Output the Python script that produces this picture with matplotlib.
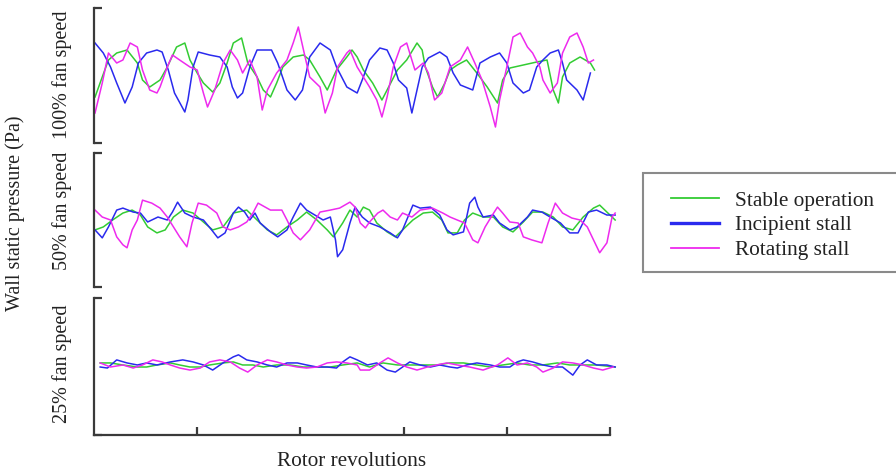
import matplotlib
matplotlib.use("Agg")
import matplotlib.pyplot as plt
from matplotlib.lines import Line2D
from matplotlib.patches import Rectangle

plt.rcParams['font.family'] = ['Liberation Serif', 'DejaVu Serif']

# ---------------- data (revolutions, Pa) ----------------
panel_labels = ["100% fan speed", "50% fan speed", "25% fan speed"]
series_names = ["Stable operation", "Incipient stall", "Rotating stall"]
series_colors = ["#33cc33", "#2a2aee", "#ee2aee"]
xtick_values = [1, 2, 3, 4, 5]

top_green = [(0.01,-43),(0.08,-3),(0.14,31),(0.22,45),(0.32,51),(0.42,25),(0.47,-9),(0.54,-23),(0.64,-9),(0.71,17),
             (0.80,57),(0.88,65),(0.93,31),(1.00,5),(1.06,-15),(1.15,-33),(1.22,-15),(1.29,25),(1.35,65),(1.43,75),
             (1.49,25),(1.58,-3),(1.64,-29),(1.71,-43),(1.77,-15),(1.83,17),(1.93,37),(2.03,41),(2.09,31),(2.19,-3),
             (2.26,-29),(2.35,11),(2.45,37),(2.50,51),(2.55,37),(2.61,11),(2.70,-15),(2.79,-49),(2.84,-29),(2.94,11),
             (3.03,31),(3.13,65),(3.18,51),(3.21,17),(3.28,-23),(3.33,-43),(3.40,-15),(3.45,11),(3.52,21),(3.61,31),
             (3.71,5),(3.81,-23),(3.91,-55),(3.96,-9),(4.03,15),(4.16,21),(4.29,27),(4.39,31),(4.45,-29),(4.50,-55),
             (4.54,-3),(4.61,25),(4.71,37),(4.81,25),(4.85,11)]
top_blue = [(0.01,65),(0.09,45),(0.16,17),(0.22,-15),(0.30,-55),(0.37,-23),(0.43,25),(0.51,45),(0.61,51),(0.66,47),
            (0.72,11),(0.78,-35),(0.88,-73),(0.91,-49),(0.96,17),(1.01,47),(1.12,41),(1.22,37),(1.29,17),(1.34,-23),
            (1.39,-45),(1.44,-35),(1.51,17),(1.58,51),(1.72,51),(1.78,25),(1.87,-29),(1.95,-49),(2.02,-29),(2.09,37),
            (2.19,65),(2.29,51),(2.35,17),(2.45,-23),(2.55,-35),(2.61,-3),(2.67,31),(2.77,55),(2.84,51),(2.90,25),
            (2.95,-9),(3.03,-25),(3.08,-75),(3.13,-29),(3.18,17),(3.24,35),(3.35,47),(3.42,37),(3.48,5),(3.55,-19),
            (3.67,-29),(3.74,25),(3.84,37),(3.93,45),(4.00,25),(4.06,-15),(4.16,-35),(4.22,-29),(4.29,17),(4.35,31),
            (4.42,45),(4.50,51),(4.54,25),(4.58,-9),(4.68,-29),(4.74,-49),(4.81,5)]
top_magenta = [(0.01,-75),(0.08,-15),(0.14,45),(0.22,25),(0.28,31),(0.35,65),(0.42,57),(0.47,11),(0.54,-29),(0.61,-35),
               (0.64,-23),(0.71,17),(0.76,41),(0.83,31),(0.93,17),(1.00,11),(1.06,-35),(1.10,-63),(1.17,-29),(1.25,25),
               (1.32,51),(1.39,31),(1.44,5),(1.51,31),(1.58,-3),(1.63,-69),(1.68,-29),(1.77,5),(1.87,31),(1.93,65),
               (1.98,97),(2.03,51),(2.09,-3),(2.19,-23),(2.24,-75),(2.31,-35),(2.36,17),(2.45,45),(2.48,51),(2.55,17),
               (2.61,-3),(2.67,-23),(2.74,-49),(2.79,-83),(2.84,-43),(2.90,17),(2.97,57),(3.03,65),(3.08,31),(3.11,11),
               (3.19,25),(3.24,5),(3.30,-49),(3.37,-35),(3.45,17),(3.55,31),(3.62,57),(3.69,25),(3.76,-9),(3.84,-63),
               (3.89,-103),(3.93,-49),(4.00,17),(4.06,77),(4.13,85),(4.20,57),(4.25,45),(4.32,17),(4.35,-9),(4.42,-35),
               (4.49,-15),(4.54,45),(4.61,77),(4.68,85),(4.74,57),(4.79,25),(4.84,31)]

mid_green = [(0.01,-20),(0.09,-14),(0.18,0),(0.28,14),(0.37,20),(0.45,10),(0.52,-14),(0.61,-26),(0.69,-20),(0.77,6),
             (0.86,20),(0.96,14),(1.06,-4),(1.15,-20),(1.25,-14),(1.35,14),(1.48,20),(1.58,0),(1.68,-20),(1.77,-30),
             (1.87,-14),(1.97,0),(2.06,16),(2.16,0),(2.26,-20),(2.32,-34),(2.41,-6),(2.48,20),(2.55,6),(2.61,26),
             (2.67,20),(2.74,-6),(2.84,-24),(2.92,-34),(2.99,-20),(3.09,0),(3.19,14),(3.28,16),(3.37,0),(3.43,-26),
             (3.52,-26),(3.59,0),(3.67,14),(3.77,6),(3.87,6),(3.96,-14),(4.06,-24),(4.16,-4),(4.25,16),(4.35,16),
             (4.45,6),(4.54,-14),(4.64,-20),(4.74,6),(4.84,24),(4.90,30),(4.98,14),(5.05,0)]
mid_blue = [(0.01,-20),(0.08,-36),(0.14,-14),(0.22,20),(0.28,24),(0.38,16),(0.45,14),(0.52,-4),(0.62,6),(0.71,0),
            (0.76,16),(0.81,36),(0.88,14),(0.96,6),(1.06,0),(1.14,-20),(1.20,-36),(1.27,-26),(1.35,14),(1.40,26),
            (1.46,16),(1.51,0),(1.56,14),(1.61,-6),(1.71,-24),(1.78,-34),(1.87,-20),(1.93,6),(2.00,34),(2.06,20),
            (2.14,10),(2.22,0),(2.29,6),(2.34,-40),(2.36,-74),(2.41,-60),(2.48,-6),(2.53,26),(2.60,6),(2.67,-6),
            (2.77,-14),(2.87,-26),(2.94,-36),(2.99,-20),(3.09,30),(3.16,24),(3.26,26),(3.35,10),(3.42,-20),(3.48,-30),
            (3.58,-24),(3.64,34),(3.69,46),(3.72,26),(3.77,6),(3.87,10),(3.93,-6),(4.03,-20),(4.10,-14),(4.20,6),
            (4.25,20),(4.34,16),(4.42,6),(4.52,-6),(4.61,-26),(4.69,-26),(4.79,16),(4.87,20),(4.97,10),(5.05,10)]
mid_magenta = [(0.01,20),(0.08,6),(0.16,0),(0.22,-34),(0.28,-50),(0.32,-56),(0.37,-20),(0.42,0),(0.47,40),(0.56,34),
               (0.64,24),(0.71,6),(0.77,-14),(0.83,-34),(0.90,-54),(0.95,-6),(1.01,34),(1.09,30),(1.19,14),(1.25,-14),
               (1.32,-20),(1.40,-14),(1.48,-4),(1.54,14),(1.59,34),(1.71,20),(1.82,20),(1.87,0),(1.93,-26),(2.00,-40),
               (2.09,-20),(2.19,16),(2.29,20),(2.38,24),(2.48,36),(2.53,26),(2.58,-6),(2.63,-16),(2.67,-4),(2.75,14),
               (2.80,20),(2.87,6),(2.94,0),(2.99,14),(3.08,6),(3.16,20),(3.28,24),(3.38,14),(3.45,6),(3.52,0),
               (3.59,-6),(3.67,-40),(3.72,-46),(3.79,-14),(3.86,10),(3.91,26),(3.96,14),(4.03,-4),(4.11,-6),(4.16,-34),
               (4.24,-40),(4.34,-46),(4.40,-6),(4.47,34),(4.54,14),(4.63,4),(4.71,0),(4.78,-14),(4.84,-40),(4.90,-66),
               (4.97,-46),(5.02,6),(5.05,14)]

low_green = [(0.06,7),(0.16,7),(0.28,3),(0.42,-1),(0.51,-1),(0.61,3),(0.74,7),(0.83,3),(0.93,-1),(1.03,-1),
             (1.12,3),(1.25,7),(1.35,9),(1.44,3),(1.54,3),(1.64,-1),(1.77,3),(1.90,3),(2.03,-1),(2.16,-1),
             (2.29,-1),(2.41,3),(2.55,7),(2.67,-1),(2.80,7),(2.94,3),(3.06,3),(3.19,3),(3.32,3),(3.45,7),
             (3.58,7),(3.71,3),(3.84,-1),(3.96,3),(4.10,7),(4.22,3),(4.35,3),(4.49,7),(4.61,3),(4.74,3),
             (4.87,3),(5.05,-1)]
low_blue = [(0.06,-1),(0.13,-3),(0.22,13),(0.32,7),(0.42,3),(0.51,7),(0.61,3),(0.74,9),(0.86,13),(0.96,9),
            (1.06,3),(1.15,-7),(1.25,7),(1.35,19),(1.40,23),(1.48,13),(1.58,9),(1.68,3),(1.77,-1),(1.87,7),
            (1.97,7),(2.06,3),(2.16,-1),(2.26,-1),(2.35,-3),(2.41,9),(2.48,19),(2.55,13),(2.65,3),(2.74,7),
            (2.84,-7),(2.92,-11),(2.99,-1),(3.06,9),(3.16,3),(3.26,-1),(3.35,3),(3.45,-1),(3.52,-3),(3.61,3),
            (3.71,7),(3.84,3),(3.93,-1),(4.03,-1),(4.10,9),(4.16,13),(4.25,9),(4.35,3),(4.45,-1),(4.54,-1),
            (4.64,-17),(4.71,3),(4.78,13),(4.87,3),(4.97,3),(5.05,-1)]
low_magenta = [(0.06,7),(0.16,-1),(0.28,3),(0.38,-3),(0.47,3),(0.57,13),(0.66,9),(0.74,3),(0.83,-3),(0.93,-7),
               (1.03,-3),(1.12,9),(1.22,13),(1.32,9),(1.41,-3),(1.49,-11),(1.58,3),(1.68,13),(1.77,9),(1.87,3),
               (1.97,-1),(2.06,-3),(2.16,-1),(2.26,7),(2.35,9),(2.45,7),(2.55,3),(2.58,-7),(2.67,-7),(2.77,7),
               (2.85,17),(2.94,7),(3.03,-1),(3.13,-7),(3.23,-1),(3.32,3),(3.42,7),(3.52,3),(3.64,-1),(3.77,-7),
               (3.91,3),(4.01,17),(4.10,3),(4.20,7),(4.29,-1),(4.35,-11),(4.45,-3),(4.54,9),(4.64,7),(4.74,3),
               (4.84,-3),(4.93,-7),(5.03,-1)]

panels_data = [
    [top_green, top_blue, top_magenta],
    [mid_green, mid_blue, mid_magenta],
    [low_green, low_blue, low_magenta],
]

# ---------------- figure ----------------
W, H = 896, 475
fig = plt.figure(figsize=(W / 100, H / 100), dpi=100)

spine_col = "#3a3a3a"
text_col = "#222222"
fs_v = 14.5
fs_h = 15.3

# axes rectangles in pixel space (left, top, right, bottom)
rects = [(94, 8, 610, 143), (94, 153, 610, 287), (94, 298, 610, 435)]
label_y = [75, 211, 364]
YLIM = (-135, 135)

for i, (rect, data) in enumerate(zip(rects, panels_data)):
    l, t, r, b = rect
    ax = fig.add_axes([l / W, 1 - b / H, (r - l) / W, (b - t) / H])
    for ser, col in zip(data, series_colors):
        xs = [p[0] for p in ser]
        ys = [p[1] for p in ser]
        ax.plot(xs, ys, color=col, lw=1.1, clip_on=False, solid_joinstyle='round')
    ax.set_xlim(0, 5.0)
    ax.set_ylim(*YLIM)
    for s in ["top", "right"]:
        ax.spines[s].set_visible(False)
    ax.spines["left"].set_color(spine_col)
    ax.spines["left"].set_linewidth(1.6)
    ax.set_yticks(list(YLIM))
    ax.set_yticklabels([])
    ax.tick_params(axis="y", direction="in", length=6, width=1.6, color=spine_col)
    if i < 2:
        ax.spines["bottom"].set_visible(False)
        ax.set_xticks([])
    else:
        ax.spines["bottom"].set_color(spine_col)
        ax.spines["bottom"].set_linewidth(1.6)
        ax.set_xticks(xtick_values)
        ax.set_xticklabels([])
        ax.tick_params(axis="x", direction="in", length=6, width=1.6, color=spine_col)
    ax.patch.set_alpha(0)
    fig.text(62 / W, 1 - label_y[i] / H, panel_labels[i], rotation=90,
             ha="center", va="center", fontsize=fs_v, color=text_col)

fig.text(15 / W, 1 - 213 / H, "Wall static pressure (Pa)", rotation=90,
         ha="center", va="center", fontsize=fs_v, color=text_col)
fig.text(352 / W, 1 - 462 / H, "Rotor revolutions", ha="center", va="center",
         fontsize=fs_h, color=text_col)

# legend frame (runs off the right edge like the reference)
frame = Rectangle((643 / W, 1 - 272 / H), 300 / W, 99 / H, transform=fig.transFigure,
                  facecolor="white", edgecolor="#8a8a8a", linewidth=1.5, clip_on=False, zorder=5)
fig.add_artist(frame)

handles = [Line2D([0], [0], color=c, lw=lw) for c, lw in zip(series_colors, [1.3, 2.4, 1.3])]
leg = fig.legend(handles, series_names, loc="upper left",
                 bbox_to_anchor=(671 / W, 1 - 191 / H), bbox_transform=fig.transFigure,
                 frameon=False, fontsize=fs_h, handlelength=2.26,
                 handletextpad=0.75, labelspacing=0.22, borderpad=0, borderaxespad=0)
leg.set_zorder(6)
for t in leg.get_texts():
    t.set_color(text_col)

fig.savefig("out.png", dpi=100)
